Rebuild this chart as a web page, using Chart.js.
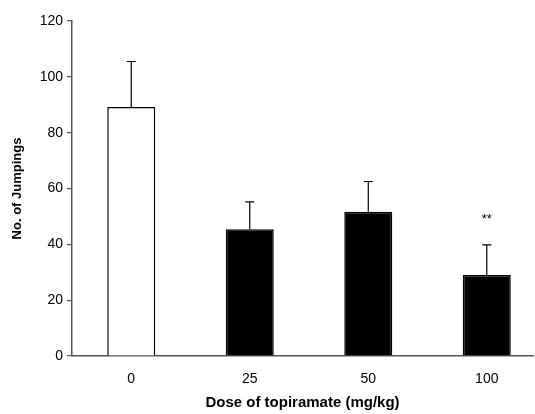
<!DOCTYPE html>
<html>
<head>
<meta charset="utf-8">
<script src="https://cdn.jsdelivr.net/npm/chart.js@4.4.1/dist/chart.umd.min.js"></script>
<style>
  html, body { margin: 0; padding: 0; background: #ffffff; }
  #wrap { width: 535px; height: 414px; }
</style>
</head>
<body>
<div id="wrap"><canvas id="jumpChart"></canvas></div>
<script>
// doses (x categories) and measured means with upper SEM
const doses = ['0', '25', '50', '100'];
const jumpings = [89.2, 45.4, 51.7, 29.0];
const errorTop = [105.5, 55.2, 62.5, 39.8];
const significance = ['', '', '', '**'];
const yTicks = [0, 20, 40, 60, 80, 100, 120];

const barFill = ['#ffffff', '#000000', '#000000', '#000000'];
const FONT = '"Liberation Sans", Arial, sans-serif';

const errorBars = {
    id: 'errorBars',
    afterDatasetsDraw(chart) {
        const ctx = chart.ctx;
        const meta = chart.getDatasetMeta(0);
        const y = chart.scales.y;
        ctx.save();
        ctx.strokeStyle = '#000000';
        ctx.lineWidth = 1.2;
        meta.data.forEach((bar, i) => {
            const top = y.getPixelForValue(errorTop[i]);
            const base = y.getPixelForValue(jumpings[i]);
            ctx.beginPath();
            ctx.moveTo(bar.x, base);
            ctx.lineTo(bar.x, top);
            ctx.moveTo(bar.x - 4.5, top);
            ctx.lineTo(bar.x + 4.5, top);
            ctx.stroke();
            if (significance[i]) {
                ctx.fillStyle = '#000000';
                ctx.font = '13px ' + FONT;
                ctx.textAlign = 'center';
                ctx.textBaseline = 'middle';
                ctx.fillText(significance[i], bar.x, top - 25);
            }
        });
        ctx.restore();
    }
};

new Chart(document.getElementById('jumpChart').getContext('2d'), {
    type: 'bar',
    data: {
        datasets: [{
            data: jumpings.map((v, i) => ({ x: i, y: v })),
            backgroundColor: barFill,
            borderColor: '#000000',
            borderWidth: 1.5,
            barPercentage: 0.405,
            categoryPercentage: 1
        }]
    },
    options: {
        responsive: true,
        maintainAspectRatio: false,
        animation: false,
        layout: { padding: { left: 0, right: 2, top: 21, bottom: 0 } },
        plugins: {
            legend: { display: false },
            tooltip: { enabled: false }
        },
        scales: {
            x: {
                type: 'linear',
                offset: false,
                min: -0.5,
                max: 3.39,
                afterBuildTicks: s => { s.ticks = doses.map((d, i) => ({ value: i })); },
                afterFit: s => { s.height = 58; },
                ticks: {
                    autoSkip: false,
                    maxRotation: 0,
                    color: '#000000',
                    padding: 7,
                    font: { family: FONT, size: 14 },
                    callback: (v) => doses[v]
                },
                grid: { display: false },
                border: { display: true, color: '#555555', width: 1.5 },
                title: {
                    display: true,
                    text: 'Dose of topiramate (mg/kg)',
                    color: '#000000',
                    padding: { top: 4, bottom: 2 },
                    font: { family: FONT, size: 15, weight: 'bold' }
                }
            },
            y: {
                min: 0,
                max: 120,
                afterBuildTicks: s => { s.ticks = yTicks.map(v => ({ value: v })); },
                afterFit: s => { s.width = 72; },
                ticks: {
                    color: '#000000',
                    padding: 4,
                    font: { family: FONT, size: 14 }
                },
                grid: {
                    drawOnChartArea: false,
                    drawTicks: true,
                    tickLength: 5,
                    color: '#555555',
                    lineWidth: 1.2
                },
                border: { display: true, color: '#555555', width: 1.5 },
                title: {
                    display: true,
                    text: 'No. of Jumpings',
                    color: '#000000',
                    padding: { top: 10, bottom: 6 },
                    font: { family: FONT, size: 13, weight: 'bold' }
                }
            }
        }
    },
    plugins: [errorBars]
});
</script>
</body>
</html>
